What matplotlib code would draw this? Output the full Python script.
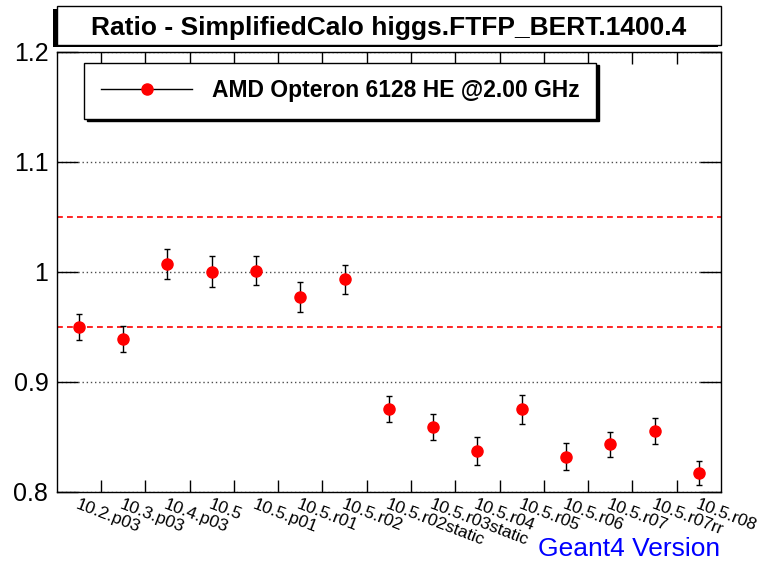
import matplotlib
matplotlib.use("Agg")
import matplotlib.pyplot as plt
from matplotlib.patches import Rectangle
from matplotlib.lines import Line2D
import numpy as np

versions = ["10.2.p03", "10.3.p03", "10.4.p03", "10.5", "10.5.p01", "10.5.r01",
            "10.5.r02", "10.5.r02static", "10.5.r03static", "10.5.r04", "10.5.r05",
            "10.5.r06", "10.5.r07", "10.5.r07rr", "10.5.r08"]
ratio = [0.950, 0.939, 1.007, 1.000, 1.001, 0.977, 0.993, 0.875, 0.859,
         0.837, 0.875, 0.832, 0.843, 0.855, 0.817]
ratio_err = [0.012, 0.012, 0.014, 0.014, 0.013, 0.014, 0.013, 0.012, 0.012,
             0.013, 0.013, 0.012, 0.011, 0.012, 0.011]
band = [0.95, 1.05]
yticks = [0.8, 0.9, 1.0, 1.1, 1.2]
ylabels = ["0.8", "0.9", "1", "1.1", "1.2"]
cpu = "AMD Opteron 6128 HE @2.00 GHz"
title = "Ratio - SimplifiedCalo higgs.FTFP_BERT.1400.4"
xlabel = "Geant4 Version"

W, H = 761, 563
plt.rcParams["font.family"] = ["Liberation Sans", "DejaVu Sans"]

def fx(px):
    return px / W

def fy(py):
    return 1 - py / H

fig = plt.figure(figsize=(W / 100, H / 100), dpi=100)
ax = fig.add_axes([fx(56.7), fy(491.7), (721 - 56.7) / W, (491.7 - 51.7) / H])

x = np.arange(len(versions)) + 0.5
ax.errorbar(x, ratio, yerr=ratio_err, fmt="o", color="red", ms=8,
            ecolor="black", elinewidth=1, capsize=2, capthick=1, zorder=5)

for b in band:
    ax.axhline(b, color="#ff0000", ls=(0, (3.5, 2.5)), lw=1.2, zorder=2)

ax.set_xlim(0, len(versions))
ax.set_ylim(0.8, 1.2)
ax.set_yticks(yticks, ylabels)
ax.yaxis.grid(True, linestyle=(0, (1, 2)), color="0.3", lw=1)
ax.tick_params(axis="y", direction="in", length=15, width=1, left=True,
               right=True, labelsize=18, pad=6)

ax.set_xticks(np.arange(1, len(versions)))
ax.set_xticks(x, versions, minor=True)
ax.tick_params(axis="x", which="major", direction="in", length=8.5, width=1,
               top=True, bottom=True, labelbottom=False)
ax.tick_params(axis="x", which="minor", length=0, labelsize=12.5, pad=4)
for lab in ax.get_xticklabels(minor=True):
    lab.set_rotation(-21)
    lab.set_ha("left")
    lab.set_va("top")
    lab.set_rotation_mode("anchor")

for s in ax.spines.values():
    s.set_linewidth(1)

# title box with shadow, ROOT style
tx0, tx1, ty0, ty1 = 56.7, 721, 6, 44.5
fig.patches.append(Rectangle((fx(tx0 - 3.5), fy(ty1 + 2.5)), (tx1 - tx0) / W,
                             (ty1 - ty0) / H, transform=fig.transFigure,
                             facecolor="black", edgecolor="none", zorder=1))
fig.patches.append(Rectangle((fx(tx0), fy(ty1)), (tx1 - tx0) / W,
                             (ty1 - ty0) / H, transform=fig.transFigure,
                             facecolor="white", edgecolor="black", lw=1, zorder=2))
fig.text(fx((tx0 + tx1) / 2), fy((ty0 + ty1) / 2), title, ha="center",
         va="center_baseline", fontsize=19, fontweight="bold")

handle = Line2D([], [], color="black", lw=1, marker="o", mfc="red", mec="red", ms=8)
leg = ax.legend([handle], [cpu], loc="upper left",
                bbox_to_anchor=(fx(84.3), fy(62.7)), bbox_transform=fig.transFigure,
                borderaxespad=0, fancybox=False, edgecolor="black", framealpha=1,
                shadow={"color": "black", "alpha": 1},
                prop={"size": 16.5, "weight": "bold"}, handlelength=4.0,
                handletextpad=0.85, borderpad=0.72)
leg.get_frame().set_linewidth(1)

fig.text(fx(720), fy(556), xlabel, ha="right", va="baseline", fontsize=19,
         color="#0000ff")

fig.savefig("out.png", dpi=100)
